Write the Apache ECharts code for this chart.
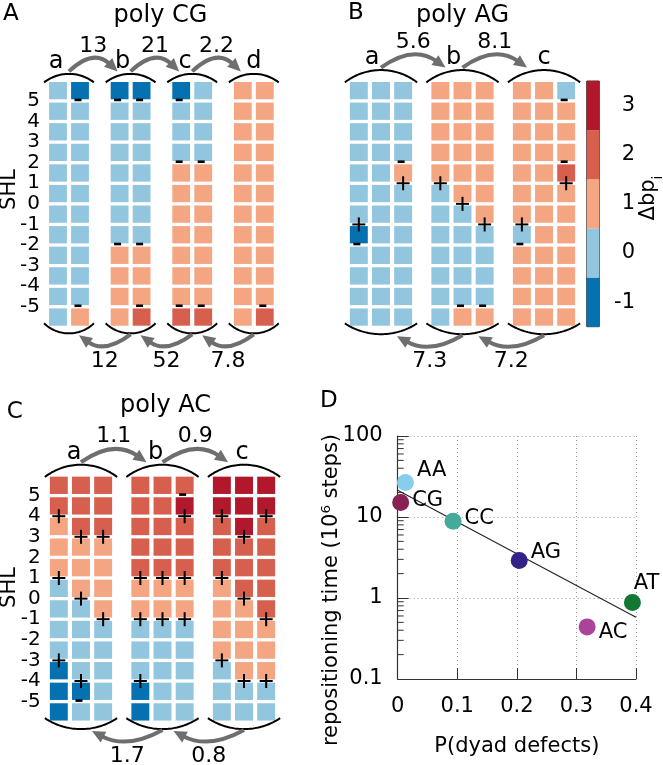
<!DOCTYPE html>
<html><head><meta charset="utf-8">
<script src="https://cdn.jsdelivr.net/npm/echarts@6/dist/echarts.min.js"></script>
<style>html,body{margin:0;padding:0;background:#fff}#c{width:663px;height:765px}</style>
</head><body><div id="c"></div>
<script>
const FONT = 'DejaVu Sans';
// ---------------- data ----------------
const shlTicks = [5,4,3,2,1,0,-1,-2,-3,-4,-5];
const levelValues = [-1,0,1,2,3];
// cells: per state, per column, rows from top (above SHL 5) to bottom (below SHL -5)
const cgStates = ['a','b','c','d'];
const cgCells = [
  [[0,0,0,0,0,0,0,0,0,0,0,0],[-1,0,0,0,0,0,0,0,0,0,0,1]],
  [[-1,0,0,0,0,0,0,0,1,1,1,1],[-1,0,0,0,0,0,0,0,1,1,1,2]],
  [[-1,0,0,0,1,1,1,1,1,1,1,2],[0,0,0,0,1,1,1,1,1,1,1,2]],
  [[1,1,1,1,1,1,1,1,1,1,1,1],[1,1,1,1,1,1,1,1,1,1,1,2]]
];
// marks: [state, column, SHL boundary, sign(+1 '+', -1 '-')]
const cgMarks = [[0,1,5,-1],[0,1,-5,-1],[1,0,5,-1],[1,1,5,-1],[1,0,-2,-1],[1,1,-2,-1],[1,1,-5,-1],
  [2,0,5,-1],[2,0,2,-1],[2,1,2,-1],[2,0,-5,-1],[2,1,-5,-1],[3,1,-5,-1]];
const cgForward = [13,21,2.2];
const cgBackward = [12,52,7.8];

const agStates = ['a','b','c'];
const agCells = [
  [[0,0,0,0,0,0,0,-1,0,0,0,0],[0,0,0,0,0,0,0,0,0,0,0,0],[0,0,0,0,1,0,0,0,0,0,0,0]],
  [[1,1,1,1,1,0,0,0,0,0,0,0],[1,1,1,1,1,1,0,0,0,0,0,1],[1,1,1,1,1,1,1,0,0,0,0,1]],
  [[1,1,1,1,1,1,1,0,1,1,1,1],[1,1,1,1,1,1,1,1,1,1,1,1],[0,1,1,1,2,1,1,1,1,1,1,1]]
];
const agMarks = [[0,0,-1,1],[0,0,-2,-1],[0,2,2,-1],[0,2,1,1],[1,0,1,1],[1,1,0,1],[1,1,-5,-1],
  [1,2,-1,1],[1,2,-5,-1],[2,0,-1,1],[2,0,-2,-1],[2,2,5,-1],[2,2,2,-1],[2,2,1,1]];
const agForward = [5.6,8.1];
const agBackward = [7.3,7.2];

const acStates = ['a','b','c'];
const acCells = [
  [[2,2,1,1,1,0,0,0,0,-1,-1,-1],[2,2,2,1,1,1,0,0,0,0,-1,0],[2,2,2,1,1,1,1,0,0,0,0,0]],
  [[2,2,2,2,2,1,1,0,0,0,-1,-1],[2,2,2,2,2,1,1,0,0,0,0,0],[2,3,2,2,2,1,1,0,0,0,0,0]],
  [[3,3,2,2,2,1,1,1,1,0,0,0],[3,3,3,2,2,2,1,1,1,1,0,0],[3,3,2,2,2,2,2,1,1,1,0,0]]
];
const acMarks = [[0,0,4,1],[0,0,1,1],[0,0,-3,1],[0,1,3,1],[0,1,0,1],[0,1,-4,1],[0,1,-5,-1],[0,2,3,1],[0,2,-1,1],
  [1,0,1,1],[1,0,-1,1],[1,0,-4,1],[1,1,1,1],[1,1,-1,1],[1,2,5,-1],[1,2,4,1],[1,2,1,1],[1,2,-1,1],
  [2,0,4,1],[2,0,1,1],[2,0,-3,1],[2,1,3,1],[2,1,0,1],[2,1,-4,1],[2,2,4,1],[2,2,-1,1],[2,2,-4,1]];
const acForward = [1.1,0.9];
const acBackward = [1.7,0.8];

const dinucs = ['AA','CG','CC','AG','AT','AC'];
const pDefects = [0.013,0.005,0.093,0.204,0.394,0.318];
const reposTime = [26.6,15.1,8.85,2.9,0.88,0.44];
const fitX = [0,0.4];
const fitY = [21.4,0.58];
const minorTickVals = [0.2,0.3,0.4,0.5,0.6,0.7,0.8,0.9,2,3,4,5,6,7,8,9,20,30,40,50,60,70,80,90];

// ---------------- styles ----------------
const palette = {'-1':'#0571b0','0':'#92c5de','1':'#f4a582','2':'#d6604d','3':'#b2182b'};
const dinucColors = ['#88ccee','#882255','#44aa99','#332288','#117733','#aa4499'];
const dLabelPos = ['right','right','right','right','top','right'];
const dLabelOffset = [[0,-12],[0,-2],[0,-3],[0,-8],[14,0],[0,6]];
const ARROW = '#6e6e6e';

const panels = [
  {states:cgStates, cells:cgCells, marks:cgMarks, fwd:cgForward, bwd:cgBackward, step:2.8,
   grid:{left:47, top:80.35, width:228.8, height:247}, xMax:9.9, fwdTip:-13, bwdTip:10,
   letterDx:[-13,-8,-7,0], yLabels:true},
  {states:agStates, cells:agCells, marks:agMarks, fwd:agForward, bwd:agBackward, step:3.68,
   grid:{left:347.75, top:80.35, width:229.5, height:247}, xMax:9.86, fwdTip:-17, bwdTip:16,
   letterDx:[-9,-9,0], yLabels:false},
  {states:acStates, cells:acCells, marks:acMarks, fwd:acForward, bwd:acBackward, step:3.68,
   grid:{left:47.75, top:475, width:229.5, height:247.2}, xMax:9.86, fwdTip:-16, bwdTip:11,
   letterDx:[-7,-7,-2], yLabels:true}
];

function arcShape(cx, halfW, yEnd, sag, dir) {
  const R = (halfW*halfW + sag*sag) / (2*sag);
  const pts = [];
  for (let i = 0; i <= 40; i++) {
    const t = -halfW + 2*halfW*i/40;
    const dy = Math.sqrt(R*R - t*t) - (R - sag);
    pts.push([cx + t, yEnd + dir*dy]);
  }
  return {type:'polyline', shape:{points:pts}, style:{stroke:'#000', lineWidth:2, fill:null}};
}
function arrowShapes(x1, y1, x2, y2, sag) {
  const cpx = (x1+x2)/2, cpy = (y1+y2)/2 + 2*sag;
  let dx = x2 - cpx, dy = y2 - cpy;
  const L = Math.hypot(dx, dy); dx /= L; dy /= L;
  const hl = 13, hw = 6;
  const bx = x2 - dx*hl, by = y2 - dy*hl;
  const nx = -dy, ny = dx;
  return [
    {type:'bezierCurve', shape:{x1:x1, y1:y1, x2:bx + dx*2, y2:by + dy*2, cpx1:cpx, cpy1:cpy},
     style:{stroke:ARROW, lineWidth:4, fill:null}},
    {type:'polygon', shape:{points:[[x2,y2],[bx+nx*hw, by+ny*hw],[bx-nx*hw, by-ny*hw]]},
     style:{fill:ARROW}}
  ];
}

function cellData(P) {
  const out = [];
  P.cells.forEach((st, s) => st.forEach((col, c) => col.forEach((v, r) => {
    out.push([s*P.step + c, 5.5 - r, v]);
  })));
  return out;
}
function markData(P) {
  return P.marks.map(m => [m[0]*P.step + m[1], m[2], m[3]]);
}
function decorData(P) {
  const out = [];
  P.states.forEach((_, s) => out.push([s, 0, 0]));
  P.fwd.forEach((r, i) => out.push([i, 1, r]));
  P.bwd.forEach((r, i) => out.push([i, 2, r]));
  return out;
}
function renderCell(params, api) {
  const p = api.coord([api.value(0), api.value(1)]);
  const sz = api.size([1, 1]);
  const w = sz[0]*0.81, h = sz[1]*0.84;
  return {type:'rect', shape:{x:p[0]-w/2, y:p[1]-h/2, width:w, height:h},
          style:{fill: palette[String(api.value(2))]}};
}
function renderMark(params, api) {
  const p = api.coord([api.value(0), api.value(1)]);
  if (api.value(2) > 0) {
    return {type:'group', children:[
      {type:'line', shape:{x1:p[0]-6.5, y1:p[1], x2:p[0]+6.5, y2:p[1]}, style:{stroke:'#000', lineWidth:2}},
      {type:'line', shape:{x1:p[0], y1:p[1]-7, x2:p[0], y2:p[1]+7}, style:{stroke:'#000', lineWidth:2}}
    ]};
  }
  return {type:'rect', shape:{x:p[0]-5.5, y:p[1]-2.3, width:7, height:2.6}, style:{fill:'#000'}};
}
function makeDecor(P) {
  return function(params, api) {
    const s = api.value(0), kind = api.value(1), rate = api.value(2);
    const ncol = P.cells[0].length;
    const u = api.size([1, 0])[0];
    const yTop = api.coord([0, 6])[1], yBot = api.coord([0, -6])[1];
    const cx = k => api.coord([k*P.step + (ncol-1)/2, 0])[0];
    const halfW = (ncol-1)/2*u + 0.405*u + 5;
    const w = 2*halfW;
    const sagTop = 0.17*w, sagBot = Math.max(10, 0.15*w);
    const topEnd = yTop + 2, topPeak = topEnd - sagTop;
    const botEnd = yBot - 4, botLow = botEnd + sagBot;
    const ch = [];
    if (kind === 0) {
      const c = cx(s);
      ch.push(arcShape(c, halfW, topEnd, sagTop, -1));
      ch.push(arcShape(c, halfW, botEnd, sagBot, 1));
      ch.push({type:'text', style:{text:P.states[s], x:c + P.letterDx[s], y:topPeak - 4 - 8.3,
        font:'24px ' + FONT, fill:'#000', align:'center', verticalAlign:'middle'}});
    } else if (kind === 1) {
      const x1 = cx(s), x2 = cx(s+1) + P.fwdTip, y = topPeak - 2.5;
      ch.push(...arrowShapes(x1, y, x2, y, -11.5));
      ch.push({type:'text', style:{text:String(rate), x:(x1+x2)/2, y:y - 11.5 - 14,
        font:'22px ' + FONT, fill:'#000', align:'center', verticalAlign:'middle'}});
    } else {
      const x1 = cx(s+1), x2 = cx(s) + P.bwdTip;
      ch.push(...arrowShapes(x1, botLow + 1, x2, botLow + 2, 9.5));
      ch.push({type:'text', style:{text:String(rate), x:(x1+x2)/2, y:botLow + 2 + 9.5 + 16,
        font:'22px ' + FONT, fill:'#000', align:'center', verticalAlign:'middle'}});
    }
    return {type:'group', children:ch};
  };
}

const grids = [], xAxes = [], yAxes = [], series = [];
panels.forEach((P, i) => {
  grids.push(Object.assign({}, P.grid));
  xAxes.push({gridIndex:i, type:'value', min:-0.5, max:P.xMax, show:false});
  yAxes.push({gridIndex:i, type:'value', min:-6, max:6, interval:1,
    axisLine:{show:false}, axisTick:{show:false}, splitLine:{show:false},
    axisLabel:{show:P.yLabels, margin:7, fontSize:20, fontFamily:FONT, color:'#000',
      formatter: v => shlTicks.indexOf(v) >= 0 ? String(v) : ''}});
  series.push({type:'custom', xAxisIndex:i, yAxisIndex:i, renderItem:renderCell, data:cellData(P), silent:true});
  series.push({type:'custom', xAxisIndex:i, yAxisIndex:i, renderItem:renderMark, data:markData(P), silent:true, z:3});
  series.push({type:'custom', xAxisIndex:i, yAxisIndex:i, renderItem:makeDecor(P), data:decorData(P), silent:true, z:4, clip:false});
});

// panel D
grids.push({left:397.7, top:436, width:238.3, height:243});
xAxes.push({gridIndex:3, type:'value', min:0, max:0.4, interval:0.1,
  axisLine:{show:true, onZero:false, lineStyle:{color:'#333', width:1.2}},
  axisTick:{show:true, inside:true, length:11, lineStyle:{color:'#333'}},
  splitLine:{show:true, lineStyle:{color:'#999', type:[1,3]}},
  axisLabel:{fontSize:21, fontFamily:FONT, color:'#000', margin:17,
    formatter: v => String(+(+v).toFixed(1))},
  name:'P(dyad defects)', nameLocation:'middle', nameGap:57,
  nameTextStyle:{fontSize:21, fontFamily:FONT, color:'#000'}});
yAxes.push({gridIndex:3, type:'log', logBase:10, min:0.1, max:100,
  axisLine:{show:true, lineStyle:{color:'#333', width:1.2}},
  axisTick:{show:true, inside:true, length:11, lineStyle:{color:'#333'}},
  splitLine:{show:true, lineStyle:{color:'#999', type:[1,3]}},
  axisLabel:{fontSize:21, fontFamily:FONT, color:'#000', margin:15,
    formatter: v => String(+(+v).toPrecision(2))}});
series.push({type:'line', xAxisIndex:3, yAxisIndex:3, data:fitX.map((x, i) => [x, fitY[i]]),
  symbol:'none', lineStyle:{color:'#222', width:1.1}, silent:true, z:2});
series.push({type:'custom', xAxisIndex:3, yAxisIndex:3, silent:true, z:3,
  data:minorTickVals.map(v => [0, v]),
  renderItem:(params, api) => {
    const p = api.coord([api.value(0), api.value(1)]);
    return {type:'line', shape:{x1:p[0], y1:p[1], x2:p[0]+6, y2:p[1]}, style:{stroke:'#333', lineWidth:1}};
  }});
series.push({type:'scatter', xAxisIndex:3, yAxisIndex:3, symbolSize:17, z:4, silent:true,
  data:dinucs.map((n, i) => ({name:n, value:[pDefects[i], reposTime[i]],
    itemStyle:{color:dinucColors[i], opacity:1},
    label:{show:true, position:dLabelPos[i], distance: dLabelPos[i]==='top' ? 0 : 3, offset:dLabelOffset[i],
      formatter:'{b}', fontSize:21, fontFamily:FONT, color:'#000'}}))});

// colour bar
grids.push({left:586.7, top:81, width:12.6, height:245.7, show:true, borderColor:'#333', borderWidth:1});
xAxes.push({gridIndex:4, type:'value', min:0, max:1, show:false});
yAxes.push({gridIndex:4, type:'category', data:levelValues.map(String), position:'right',
  axisLine:{show:false}, axisTick:{show:false}, splitLine:{show:false},
  axisLabel:{align:'right', margin:35.7, fontSize:21, fontFamily:FONT, color:'#000'}});
series.push({type:'bar', xAxisIndex:4, yAxisIndex:4, barWidth:'100%', barCategoryGap:0, silent:true,
  data:levelValues.map(v => ({value:1, itemStyle:{color:palette[String(v)]}}))});

const txt = (text, x, y, size, align, rot) => ({type:'text', x:x, y:y, rotation:rot||0, silent:true,
  style:{text:text, font:size + 'px ' + FONT, fill:'#000', align:align||'center', verticalAlign:'middle'}});

const chart = echarts.init(document.getElementById('c'), null, {renderer:'canvas'});
chart.setOption({
  animation:false,
  backgroundColor:'#fff',
  grid:grids, xAxis:xAxes, yAxis:yAxes, series:series,
  graphic:[
    txt('A', 3, 14.3, 23, 'left'),
    txt('poly CG', 160.5, 15.3, 24),
    txt('B', 348, 13.3, 23, 'left'),
    txt('poly AG', 462.5, 15.3, 24),
    txt('C', 6.7, 412.5, 23, 'left'),
    txt('poly AC', 165.5, 405.5, 24),
    txt('D', 320, 401.5, 23, 'left'),
    txt('SHL', 9.5, 189.5, 21, 'center', Math.PI/2),
    txt('SHL', 9.5, 587.5, 21, 'center', Math.PI/2),
    txt('repositioning time (10\u2076 steps)', 331.5, 590, 21, 'center', Math.PI/2),
    {type:'text', x:652, y:198, rotation:Math.PI/2, silent:true,
     style:{text:'{a|\u0394bp}{s|i}', align:'center', verticalAlign:'middle',
       rich:{a:{fontSize:21, fontFamily:FONT, fill:'#000', lineHeight:21, verticalAlign:'top'},
             s:{fontSize:14, fontFamily:FONT, fill:'#000', lineHeight:27, verticalAlign:'bottom'}}}}
  ]
});
</script></body></html>
